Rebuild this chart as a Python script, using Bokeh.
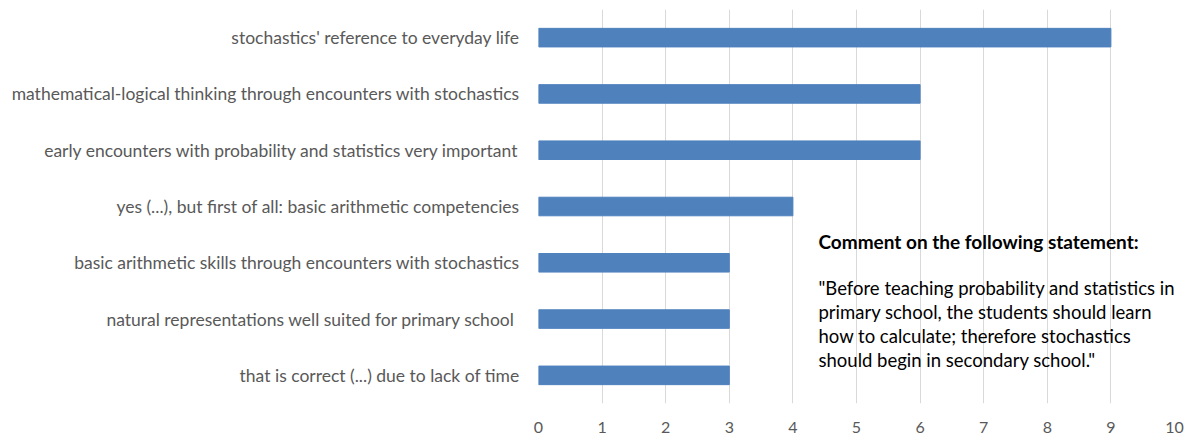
from bokeh.plotting import figure
from bokeh.models import Range1d, FixedTicker, Label, ColumnDataSource
from bokeh.embed import file_html
from bokeh.resources import INLINE

categories = [
    "stochastics' reference to everyday life",
    "mathematical-logical thinking through encounters with stochastics",
    "early encounters with probability and statistics very important",
    "yes (...), but first of all: basic arithmetic competencies",
    "basic arithmetic skills through encounters with stochastics",
    "natural representations well suited for primary school ",
    "that is correct (...) due to lack of time",
]
counts = [9, 6, 6, 4, 3, 3, 3]
x_ticks = list(range(0, 11))

title_line = "Comment on the following statement:"
quote_lines = [
    "\"Before teaching probability and statistics in",
    "primary school, the students should learn",
    "how to calculate; therefore stochastics",
    "should begin in secondary school.\"",
]

n = len(categories)
ypos = [n - 0.5 - i for i in range(n)]
src = ColumnDataSource(dict(y=ypos, right=counts, cat=categories))

FONT = "Lato"
p = figure(width=1190, height=440, output_backend="svg", toolbar_location=None,
           x_range=Range1d(0, 10), y_range=Range1d(0, n),
           min_border_left=538, min_border_right=16, min_border_top=9, min_border_bottom=37)
p.outline_line_color = None
p.background_fill_color = "white"
p.border_fill_color = "white"

p.hbar(y="y", left=0, right="right", height=0.33, source=src,
       fill_color="#4F81BD", line_color="#4F81BD")

p.xgrid.ticker = FixedTicker(ticks=x_ticks)
p.xgrid.grid_line_color = "#D9D9D9"
p.xgrid.grid_line_width = 1
p.ygrid.grid_line_color = None

p.xaxis.ticker = FixedTicker(ticks=x_ticks)
p.xaxis.axis_line_color = None
p.xaxis.major_tick_line_color = None
p.xaxis.minor_tick_line_color = None
p.xaxis.major_label_text_color = "#595959"
p.xaxis.major_label_text_font = FONT
p.xaxis.major_label_text_font_size = "16px"
p.xaxis.major_label_standoff = 12

p.yaxis.ticker = FixedTicker(ticks=ypos)
p.yaxis.major_label_overrides = {y: c for y, c in zip(ypos, categories)}
p.yaxis.axis_line_color = None
p.yaxis.major_tick_line_color = None
p.yaxis.minor_tick_line_color = None
p.yaxis.major_label_text_color = "#595959"
p.yaxis.major_label_text_font = FONT
p.yaxis.major_label_text_font_size = "17.5px"
p.yaxis.major_label_standoff = 13

def ydata(pix):
    return (403 - pix) / (394 / n)

tx = (818 - 538) / 63.6
p.add_layout(Label(x=tx, y=ydata(241), text=title_line, text_font=FONT,
                   text_font_size="19px", text_font_style="bold", text_color="black",
                   text_baseline="middle"))
for i, line in enumerate(quote_lines):
    p.add_layout(Label(x=tx, y=ydata(287 + 24 * i), text=line, text_font=FONT,
                       text_font_size="18.5px", text_color="black", text_baseline="middle"))

open("out.html", "w").write(file_html(p, INLINE))
